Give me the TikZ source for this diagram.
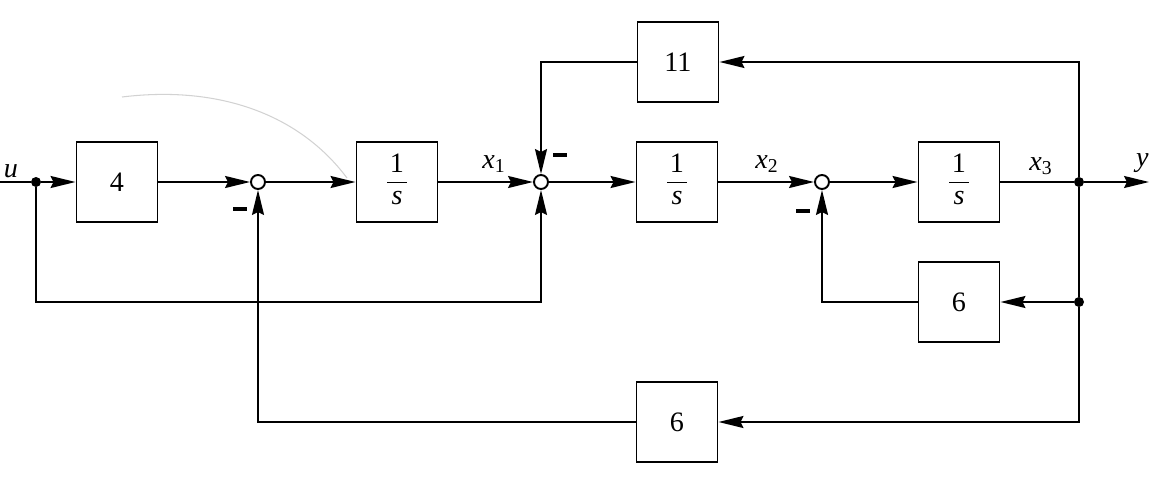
\documentclass[tikz,border=0pt]{standalone}
\usepackage{fontspec}
\setmainfont{Liberation Serif}
\usetikzlibrary{arrows.meta}
\newcommand\invs{\begin{tabular}{@{\hspace{1.5pt}}c@{\hspace{1.5pt}}}1\\\hline\textit{s}\end{tabular}}
\begin{document}
\begin{tikzpicture}[x=0.02cm,y=-0.02cm,
  blk/.style={draw,line width=1.1pt,minimum width=1.62cm,minimum height=1.6cm,inner sep=0pt,font=\fontsize{16}{18}\selectfont},
  sumj/.style={draw,circle,line width=1.1pt,minimum size=0.28cm,inner sep=0pt,fill=white},
  dotj/.style={circle,fill,inner sep=0pt,minimum size=0.2cm},
  sig/.style={line width=1.1pt},
  arr/.style={sig,-{Stealth[length=5mm,width=2.4mm,inset=0.6mm]}},
  lbl/.style={font=\fontsize{16}{18}\selectfont\itshape,inner sep=0pt},
  minus/.style={inner sep=0pt}]
\useasboundingbox (0,0) rectangle (1150,480);
% faint scan curve
\draw[gray!35,line width=0.6pt] (122,97) .. controls (220,85) and (300,115) .. (347,178);
% nodes
\coordinate (in) at (0,182);
\node[dotj] (du) at (36,182) {};
\node[blk] (b4) at (117,182) {4};
\node[sumj] (s1) at (258,182) {};
\node[blk] (i1) at (397,182) {\invs};
\node[sumj] (s2) at (541,182) {};
\node[blk] (i2) at (677,182) {\invs};
\node[sumj] (s3) at (822,182) {};
\node[blk] (i3) at (959,182) {\invs};
\node[dotj] (d1) at (1079,182) {};
\node[dotj] (d2) at (1079,302) {};
\coordinate (out) at (1149,182);
\node[blk] (b11) at (678,62) {11};
\node[blk] (b6a) at (959,302) {6};
\node[blk] (b6b) at (677,422) {6};
\coordinate (c1) at (541,302);
% connectors
\draw[sig] (in) -- (du);
\draw[arr] (du) -- (b4);
\draw[arr] (b4) -- (s1);
\draw[arr] (s1) -- (i1);
\draw[arr] (i1) -- (s2);
\draw[arr] (s2) -- (i2);
\draw[arr] (i2) -- (s3);
\draw[arr] (s3) -- (i3);
\draw[sig] (i3) -- (d1);
\draw[arr] (d1) -- (out);
\draw[arr] (d1) |- (b11);
\draw[arr] (b11) -| (s2);
\draw[arr] (du) |- (c1) -- (s2);
\draw[sig] (d1) -- (d2);
\draw[arr] (d2) -- (b6a);
\draw[arr] (b6a) -| (s3);
\draw[arr] (d2) |- (b6b);
\draw[arr] (b6b) -| (s1);
% signs
\node[minus] (m1) at (240,209) {\rule{0.27cm}{1.9pt}};
\node[minus] (m2) at (560,155) {\rule{0.27cm}{1.9pt}};
\node[minus] (m3) at (803,211) {\rule{0.27cm}{1.9pt}};
% labels
\node[lbl] (lu) at (11,171) {u};
\node[lbl] (lx1) at (494,164) {x\textsubscript{\upshape 1}};
\node[lbl] (lx2) at (767,164) {x\textsubscript{\upshape 2}};
\node[lbl] (lx3) at (1041,166) {x\textsubscript{\upshape 3}};
\node[lbl,anchor=east] (ly) at (1149,163) {y};
\end{tikzpicture}
\end{document}
